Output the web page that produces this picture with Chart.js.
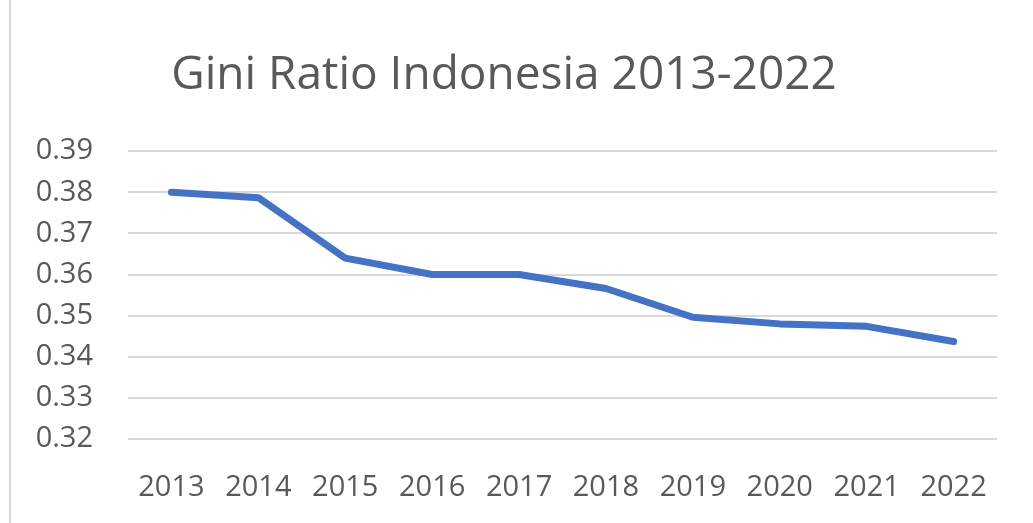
<!DOCTYPE html>
<html>
<head>
<meta charset="utf-8">
<script src="https://cdn.jsdelivr.net/npm/chart.js@4.4.0/dist/chart.umd.min.js"></script>
<style>
  html, body { margin: 0; padding: 0; background: #fff; }
  #wrap { position: absolute; left: 9px; top: 0; width: 1024px; height: 523px; border-left: 2px solid #d9d9d9; }
  #myChart { display: block; }
</style>
</head>
<body>
<div id="wrap"><canvas id="myChart" width="1022" height="523"></canvas></div>
<script>
// Gini Ratio Indonesia
const years = ['2013', '2014', '2015', '2016', '2017', '2018', '2019', '2020', '2021', '2022'];
const gini = [0.380, 0.3787, 0.364, 0.360, 0.360, 0.3566, 0.3496, 0.348, 0.3474, 0.3437];
const yTicks = [0.32, 0.33, 0.34, 0.35, 0.36, 0.37, 0.38, 0.39];

const textColor = '#595959';
const font = 'Open Sans';

const config = {
    type: 'line',
    data: {
        labels: years,
        datasets: [
            {
                data: gini,
                borderColor: '#4472C4',
                borderWidth: 7,
                pointRadius: 0,
                borderCapStyle: 'round',
                borderJoinStyle: 'round',
                tension: 0
            }
        ]
    },
    options: {
        responsive: false,
        animation: false,
        layout: { padding: { left: 0, right: 36, top: 48, bottom: 0 } },
        plugins: {
            legend: { display: false },
            tooltip: { enabled: false },
            title: {
                display: true,
                text: 'Gini Ratio Indonesia 2013-2022',
                color: textColor,
                font: { family: font, size: 46, weight: 'normal' },
                padding: { top: 0, bottom: 48 }
            }
        },
        scales: {
            x: {
                offset: true,
                grid: { display: false, drawTicks: false },
                border: { display: false },
                ticks: {
                    color: textColor,
                    font: { family: font, size: 29 },
                    padding: 31,
                    maxRotation: 0
                },
                afterFit: (axis) => { axis.height = 84; }
            },
            y: {
                min: 0.32,
                max: 0.39,
                afterBuildTicks: (axis) => { axis.ticks = yTicks.map(v => ({ value: v })); },
                grid: { color: '#d9d9d9', lineWidth: 2, drawTicks: false },
                border: { display: false },
                ticks: {
                    color: textColor,
                    font: { family: font, size: 29 },
                    padding: 35,
                    callback: (v) => v.toFixed(2)
                },
                afterFit: (axis) => { axis.width = 117; }
            }
        }
    }
};

const ctx = document.querySelector('#myChart').getContext('2d');
new Chart(ctx, config);
</script>
</body>
</html>
